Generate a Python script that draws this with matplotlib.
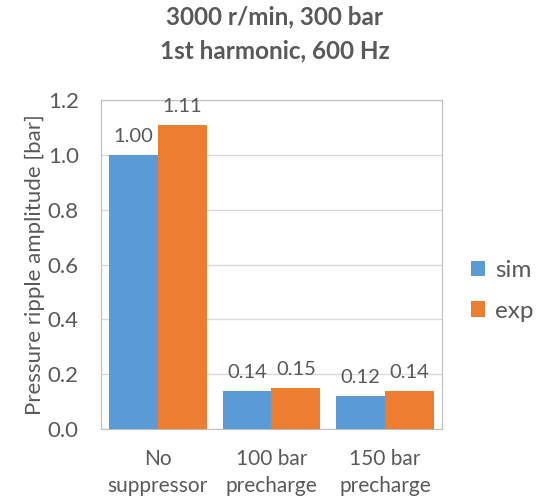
import numpy as np
import matplotlib.pyplot as plt

categories = ['No\nsuppressor', '100 bar\nprecharge', '150 bar\nprecharge']
sim = [1.00, 0.14, 0.12]
exp = [1.11, 0.15, 0.14]
series_names = ['sim', 'exp']
title = '3000 r/min, 300 bar\n1st harmonic, 600 Hz'
ylabel = 'Pressure ripple amplitude [bar]'

plt.rcParams['font.family'] = ['Lato', 'DejaVu Sans']
text_col = '#595959'

fig = plt.figure(figsize=(5.5, 5.03), dpi=100)
ax = fig.add_axes([0.1836, 0.147, 0.62, 0.654])

x = np.arange(len(categories))
w = 0.43
b1 = ax.bar(x - w / 2, sim, w, color='#5B9BD5', label=series_names[0], zorder=3)
b2 = ax.bar(x + w / 2, exp, w, color='#ED7D31', label=series_names[1], zorder=3)

for bars in (b1, b2):
    for rect in bars:
        h = rect.get_height()
        ax.annotate('%.2f' % h, (rect.get_x() + rect.get_width() / 2, h),
                    xytext=(0, 7), textcoords='offset points',
                    ha='center', va='bottom', fontsize=14.5, color=text_col)

ax.set_xlim(-0.5, len(categories) - 0.5)
ax.set_ylim(0, 1.2)
ax.set_yticks(np.arange(0, 1.21, 0.2))
ax.set_yticklabels(['%.1f' % v for v in np.arange(0, 1.21, 0.2)])
ax.set_xticks(x)
ax.set_xticklabels(categories, linespacing=1.45)
ax.tick_params(axis='both', length=0, labelsize=16, colors=text_col)
ax.tick_params(axis='x', pad=14, labelsize=15)
ax.tick_params(axis='y', pad=16)
ax.yaxis.grid(True, color='#D9D9D9', linewidth=1, zorder=0)
for s in ax.spines.values():
    s.set_color('#BFBFBF')
ax.set_ylabel(ylabel, fontsize=16, color=text_col, labelpad=2)

fig.suptitle(title, fontsize=17.5, fontweight='bold', color=text_col,
             y=0.99, linespacing=1.6)

ax.legend(loc='center left', bbox_to_anchor=(1.02, 0.42), frameon=False,
          fontsize=17.5, labelcolor=text_col, handlelength=0.6,
          handleheight=0.6, labelspacing=0.8, handletextpad=0.4)

fig.savefig('out.png', dpi=100)
